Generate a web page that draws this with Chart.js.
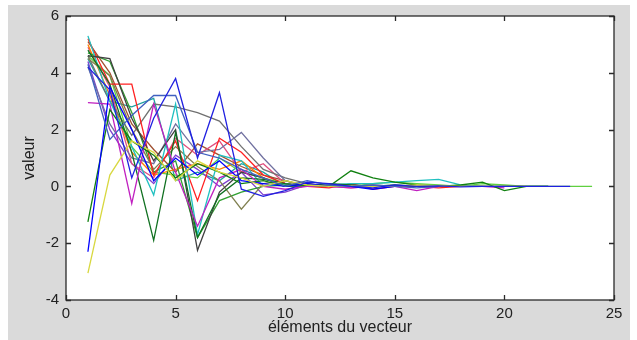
<!DOCTYPE html>
<html><head><meta charset="utf-8">
<script src="https://cdn.jsdelivr.net/npm/chart.js@4"></script>
<style>
html,body{margin:0;padding:0;background:#fff;}
#bg{position:absolute;left:8px;top:5px;width:622px;height:335px;background:#dadada;}
#wrap{position:absolute;left:0;top:0;width:637px;height:340px;}
</style></head><body>
<div id="bg"></div>
<div id="wrap"><canvas id="c" width="637" height="340"></canvas></div>
<script>
const xTicks = [0, 5, 10, 15, 20, 25];
const yTicks = [-4, -2, 0, 2, 4, 6];
const xTitle = 'éléments du vecteur';
const yTitle = 'valeur';

const s1  = [4.2, 3.4, 0.3, 2.4, 3.8, 1.0, 3.3, -0.1, -0.35, -0.15, 0.15, 0.1, 0.0, -0.05, 0.05, 0.0, 0.02, -0.02, 0.0, 0.0, 0.0, 0.0, 0.0];
const s2  = [4.3, 1.65, 2.5, 3.2, 3.2, 1.2, 1.0, 0.6, 0.3, 0.0, 0.2, 0.05, 0.0, 0.05, 0.0, -0.05, 0.0];
const s3  = [-3.05, 0.4, 1.6, 1.2, 0.2, 0.9, 0.5, 0.3, 0.0, 0.2, 0.05, 0.0, 0.02, 0.0, 0.0, 0.05, 0.02, 0.0, 0.0, 0.0, 0.0];
const s4  = [-2.3, 3.5, 2.0, 0.2, 1.0, 0.4, 0.9, 0.2, 0.1, 0.0, 0.1, 0.0, 0.0, -0.1, 0.0];
const s5  = [-1.25, 2.7, 1.6, 1.1, 0.3, 0.8, 0.5, 0.1, 0.2, 0.0, 0.05, 0.0, 0.55, 0.3, 0.15, 0.05, 0.0, 0.05, 0.15, -0.15, 0.0, 0.0];
const s6  = [2.95, 2.9, -0.6, 2.9, 0.5, -1.4, 0.3, 0.6, 0.0, -0.1, 0.0, 0.0, -0.05, 0.0, 0.0, -0.15, 0.0, 0.0, 0.0, -0.05];
const s7  = [4.8, 3.6, 1.2, -1.9, 1.9, -1.8, -0.3, 0.3, 0.25, 0.1, 0.0, 0.1, 0.05, 0.0, 0.05, 0.0, 0.0, 0.0, 0.0, 0.0, 0.0, 0.0];
const s8  = [4.6, 4.5, 2.4, 0.9, 2.0, -2.25, -0.2, 0.5, 0.3, 0.0, 0.1, 0.0, 0.0, 0.0];
const s9  = [5.3, 3.0, 1.4, -0.3, 2.9, -1.7, 1.1, 0.9, 0.0, 0.1, 0.0, 0.05, 0.1, 0.1, 0.15, 0.2, 0.25, 0.05, 0.0];
const s10 = [5.2, 3.6, 3.6, 0.4, 1.6, -0.5, 1.7, 1.2, 0.4, 0.1, 0.0, -0.05, 0.1, -0.1, 0.0, 0.0, -0.05, 0.0];
const s11 = [4.5, 3.9, 2.0, 0.6, 1.4, 0.7, 0.2, -0.8, 0.1, 0.2, 0.0, 0.0, 0.0, 0.05, 0.0];
const s12 = [4.7, 4.4, 2.6, 0.5, 0.9, -1.8, -0.5, -0.2, 0.0, 0.05, 0.0, 0.0, 0.0, 0.0, 0.0, 0.0];
const s13 = [4.2, 2.2, 1.0, 0.8, 2.2, 1.2, 1.3, 1.9, 1.0, 0.2, 0.0, 0.05, 0.0, 0.0, 0.0, 0.0, 0.0];
const s14 = [4.6, 3.0, 1.8, 2.9, 2.8, 2.6, 2.3, 1.4, 0.6, 0.3, 0.1, 0.0, 0.05, 0.0, 0.0, 0.0, 0.0, 0.0, 0.0, 0.0, 0.0];
const s15 = [5.0, 3.2, 1.2, 0.4, 0.6, 0.8, 0.6, 0.9, 0.3, 0.0, 0.05, 0.0, 0.0, 0.0, 0.0];
const s16 = [4.9, 3.5, 0.8, 0.3, 1.7, 1.1, 1.6, 0.5, 0.8, 0.1, 0.0, 0.0, -0.05, 0.0];
const s17 = [4.6, 3.9, 1.4, 0.5, 0.4, 0.3, 1.0, 0.5, 0.3, 0.1, 0.0, 0.05, 0.0, 0.1, 0.15, 0.1, 0.05, 0.0, 0.1, 0.05, 0.0, 0.0, 0.0, 0.0];
const s18 = [4.4, 2.0, 0.8, 0.1, 1.1, 0.6, 0.0, 0.5, -0.3, -0.2, 0.05, 0.0, 0.0, 0.0, 0.0, 0.0, 0.0, 0.0];
const s19 = [5.1, 4.0, 2.2, 1.3, 0.5, 1.5, 1.1, 0.7, 0.4, 0.2, 0.0, 0.0, 0.0];
const s20 = [4.5, 3.0, 2.8, 3.1, 0.2, 0.5, 0.2, 0.8, 0.5, 0.0, 0.0, 0.0];

const series = [s1, s2, s3, s4, s5, s6, s7, s8, s9, s10, s11, s12, s13, s14, s15, s16, s17, s18, s19, s20];
const colors = ['#2020e0', '#4060c0', '#d8d840', '#0000ff', '#108010', '#c020c0', '#107020', '#404040', '#20c0c0', '#ff2020',
                '#808050', '#30a030', '#7070a0', '#707070', '#ff8000', '#e05080', '#60d040', '#8040d0', '#a05030', '#20a0a0'];

const frame = {
  id: 'frame',
  beforeDraw(chart) {
    const {ctx, chartArea: a} = chart;
    ctx.save();
    ctx.fillStyle = '#ffffff';
    ctx.fillRect(a.left, a.top, a.right - a.left, a.bottom - a.top);
    ctx.restore();
  },
  afterDraw(chart) {
    const {ctx, chartArea: a, scales: {x, y}} = chart;
    ctx.save();
    ctx.strokeStyle = '#2a2a2a';
    ctx.lineWidth = 1.3;
    ctx.strokeRect(a.left, a.top, a.right - a.left, a.bottom - a.top);
    const L = 5;
    ctx.beginPath();
    x.ticks.forEach(t => {
      const px = Math.round(x.getPixelForValue(t.value)) + 0.5;
      ctx.moveTo(px, a.bottom); ctx.lineTo(px, a.bottom - L);
      ctx.moveTo(px, a.top); ctx.lineTo(px, a.top + L);
    });
    y.ticks.forEach(t => {
      const py = Math.round(y.getPixelForValue(t.value)) + 0.5;
      ctx.moveTo(a.left, py); ctx.lineTo(a.left + L, py);
      ctx.moveTo(a.right, py); ctx.lineTo(a.right - L, py);
    });
    ctx.stroke();
    ctx.restore();
  }
};

const font = {family: "'Liberation Sans', Arial, sans-serif", size: 15};
const titleFont = {family: "'Liberation Sans', Arial, sans-serif", size: 16};

new Chart(document.getElementById('c'), {
  type: 'line',
  data: {
    datasets: series.map((s, i) => ({
      data: s.map((v, j) => ({x: j + 1, y: v})),
      borderColor: colors[i],
      borderWidth: 1.3,
      pointRadius: 0,
      fill: false,
      tension: 0
    }))
  },
  options: {
    responsive: false,
    animation: false,
    devicePixelRatio: 1,
    layout: {padding: {left: 0, right: 23, top: 12, bottom: 0}},
    plugins: {legend: {display: false}, tooltip: {enabled: false}},
    scales: {
      x: {
        type: 'linear', min: 0, max: 25,
        afterBuildTicks: s => { s.ticks = xTicks.map(v => ({value: v})); },
        afterFit: s => { s.height = 40; },
        grid: {display: false, drawTicks: false},
        border: {display: false},
        ticks: {font, color: '#222', padding: 5, maxRotation: 0},
        title: {display: true, text: xTitle, font: titleFont, color: '#222', padding: {top: 0, bottom: 3}}
      },
      y: {
        type: 'linear', min: -4, max: 6,
        afterBuildTicks: s => { s.ticks = yTicks.map(v => ({value: v})); },
        afterFit: s => { s.width = 66; },
        grid: {display: false, drawTicks: false},
        border: {display: false},
        ticks: {font, color: '#222', padding: 7},
        title: {display: true, text: yTitle, font: titleFont, color: '#222', padding: {top: 20, bottom: 0}}
      }
    }
  },
  plugins: [frame]
});
</script>
</body></html>
